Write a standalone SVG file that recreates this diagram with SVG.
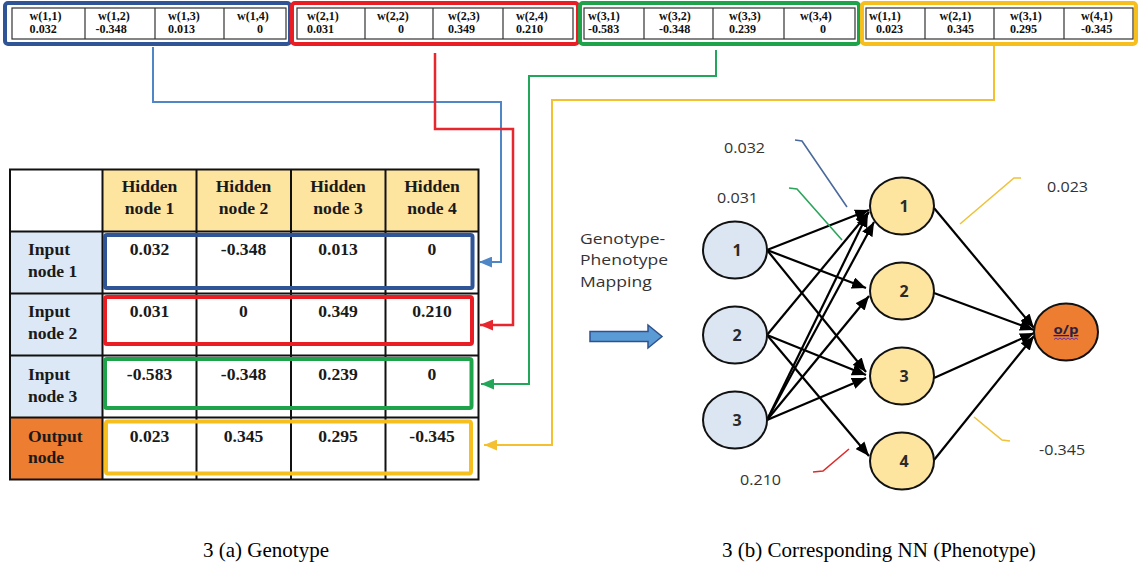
<svg xmlns="http://www.w3.org/2000/svg" width="1138" height="571" viewBox="0 0 1138 571">
<style>
.ts{font-family:"Liberation Serif",serif;font-weight:bold;font-size:11.5px;fill:#111}
.tb{font-family:"Liberation Serif",serif;font-weight:bold;font-size:16px;fill:#1a1a1a}
.m{text-anchor:middle}
.ss{font-family:"Open Sans",sans-serif;font-size:14px;fill:#333}
.gp{font-family:"Open Sans",sans-serif;font-size:15px;fill:#333}
.cap{font-family:"Liberation Serif",serif;font-size:21px;fill:#000}
.nl{font-family:"Open Sans",sans-serif;font-weight:bold;font-size:16px;fill:#2a2a2a;text-anchor:middle}
.inner{fill:#fff;stroke:#333;stroke-width:1.2}
.div{stroke:#333;stroke-width:1.2}
.grid{stroke:#111;stroke-width:2;fill:none}
.edge{stroke:#000;stroke-width:2.2;fill:none;marker-end:url(#ak)}
.inN{fill:#dce6f2;stroke:#111;stroke-width:2}
.hidN{fill:#fde5a0;stroke:#111;stroke-width:2}
.outN{fill:#ed7d31;stroke:#111;stroke-width:2}
.call{fill:none;stroke-width:1.6}
</style>
<defs>
<marker id="ak" viewBox="0 0 12 10" refX="12" refY="5" markerWidth="14" markerHeight="12" markerUnits="userSpaceOnUse" orient="auto"><path d="M0,0 L12,5 L0,10 z" fill="#000"/></marker>
<marker id="ab" viewBox="0 0 12 10" refX="12" refY="5" markerWidth="13" markerHeight="11" markerUnits="userSpaceOnUse" orient="auto"><path d="M0,0 L12,5 L0,10 z" fill="#4f86c6"/></marker>
<marker id="ar" viewBox="0 0 12 10" refX="12" refY="5" markerWidth="13" markerHeight="11" markerUnits="userSpaceOnUse" orient="auto"><path d="M0,0 L12,5 L0,10 z" fill="#e8262d"/></marker>
<marker id="ag" viewBox="0 0 12 10" refX="12" refY="5" markerWidth="13" markerHeight="11" markerUnits="userSpaceOnUse" orient="auto"><path d="M0,0 L12,5 L0,10 z" fill="#24a65a"/></marker>
<marker id="ay" viewBox="0 0 12 10" refX="12" refY="5" markerWidth="13" markerHeight="11" markerUnits="userSpaceOnUse" orient="auto"><path d="M0,0 L12,5 L0,10 z" fill="#f4c030"/></marker>
</defs>
<rect width="1138" height="571" fill="#fff"/>

<!-- Genotype strip -->
<g id="strip-blue">
<rect class="inner" x="12" y="8" width="274" height="31"/>
<path class="div" d="M85,8V39M155,8V39M224,8V39"/>
<rect x="5" y="3" width="285" height="41" rx="3" fill="none" stroke="#2f5597" stroke-width="4"/>
<text class="ts" transform="translate(29.6,20) scale(1.05,1)">w(1,1)</text>
<text class="ts" transform="translate(29.6,33) scale(1.05,1)">0.032</text>
<text class="ts" transform="translate(98,20) scale(1.05,1)">w(1,2)</text>
<text class="ts" transform="translate(95.5,33) scale(1.05,1)">-0.348</text>
<text class="ts" transform="translate(168,20) scale(1.05,1)">w(1,3)</text>
<text class="ts" transform="translate(168,33) scale(1.05,1)">0.013</text>
<text class="ts" transform="translate(237,20) scale(1.05,1)">w(1,4)</text>
<text class="ts" transform="translate(257,33) scale(1.05,1)">0</text>
</g>
<g id="strip-red">
<rect class="inner" x="297" y="8" width="276" height="31"/>
<path class="div" d="M365,8V39M433,8V39M503,8V39"/>
<rect x="292" y="3" width="286" height="41" rx="3" fill="none" stroke="#e91e25" stroke-width="4"/>
<text class="ts" transform="translate(307,20) scale(1.05,1)">w(2,1)</text>
<text class="ts" transform="translate(307,33) scale(1.05,1)">0.031</text>
<text class="ts" transform="translate(377,20) scale(1.05,1)">w(2,2)</text>
<text class="ts" transform="translate(398,33) scale(1.05,1)">0</text>
<text class="ts" transform="translate(448,20) scale(1.05,1)">w(2,3)</text>
<text class="ts" transform="translate(448,33) scale(1.05,1)">0.349</text>
<text class="ts" transform="translate(516,20) scale(1.05,1)">w(2,4)</text>
<text class="ts" transform="translate(516,33) scale(1.05,1)">0.210</text>
</g>
<g id="strip-green">
<rect class="inner" x="584" y="8" width="271" height="31"/>
<path class="div" d="M644,8V39M713,8V39M784,8V39"/>
<rect x="580" y="3" width="279" height="41" rx="3" fill="none" stroke="#1fa34a" stroke-width="4"/>
<text class="ts" transform="translate(588,20) scale(1.05,1)">w(3,1)</text>
<text class="ts" transform="translate(588,33) scale(1.05,1)">-0.583</text>
<text class="ts" transform="translate(659,20) scale(1.05,1)">w(3,2)</text>
<text class="ts" transform="translate(659,33) scale(1.05,1)">-0.348</text>
<text class="ts" transform="translate(729,20) scale(1.05,1)">w(3,3)</text>
<text class="ts" transform="translate(729,33) scale(1.05,1)">0.239</text>
<text class="ts" transform="translate(800,20) scale(1.05,1)">w(3,4)</text>
<text class="ts" transform="translate(820,33) scale(1.05,1)">0</text>
</g>
<g id="strip-yellow">
<rect class="inner" x="866" y="8" width="267" height="31"/>
<path class="div" d="M925,8V39M994,8V39M1064,8V39"/>
<rect x="862" y="3" width="274" height="41" rx="3" fill="none" stroke="#f7bf1e" stroke-width="4"/>
<text class="ts" transform="translate(869,20) scale(1.05,1)">w(1,1)</text>
<text class="ts" transform="translate(876,33) scale(1.05,1)">0.023</text>
<text class="ts" transform="translate(939.5,20) scale(1.05,1)">w(2,1)</text>
<text class="ts" transform="translate(947,33) scale(1.05,1)">0.345</text>
<text class="ts" transform="translate(1010,20) scale(1.05,1)">w(3,1)</text>
<text class="ts" transform="translate(1010,33) scale(1.05,1)">0.295</text>
<text class="ts" transform="translate(1081,20) scale(1.05,1)">w(4,1)</text>
<text class="ts" transform="translate(1081,33) scale(1.05,1)">-0.345</text>
</g>

<!-- Genotype table -->
<g id="table">
<rect x="10" y="169.5" width="92.5" height="62" fill="#fff"/>
<rect x="102.5" y="169.5" width="376" height="62" fill="#fde5a0"/>
<rect x="10" y="231.5" width="92.5" height="186" fill="#dce8f5"/>
<rect x="10" y="417.5" width="92.5" height="62" fill="#ed7d31"/>
<rect x="102.5" y="231.5" width="376" height="248" fill="#fff"/>
<rect class="grid" x="10" y="169.5" width="468.5" height="310"/>
<path class="grid" d="M102.5,169.5V479.5M196.5,169.5V479.5M291,169.5V479.5M385.5,169.5V479.5M10,231.5H478.5M10,293.5H478.5M10,355.5H478.5M10,417.5H478.5"/>
<rect x="105" y="235" width="367.5" height="53" rx="2" fill="none" stroke="#2f5597" stroke-width="4"/>
<rect x="105" y="297" width="367" height="47" rx="2" fill="none" stroke="#e91e25" stroke-width="4"/>
<rect x="105" y="359" width="366.5" height="49" rx="2" fill="none" stroke="#1fa34a" stroke-width="4"/>
<rect x="106" y="421.5" width="365" height="52" rx="2" fill="none" stroke="#f7bf1e" stroke-width="4"/>
<text class="tb m" transform="translate(149.5,192) scale(1.1,1)">Hidden</text>
<text class="tb m" transform="translate(149.5,214) scale(1.1,1)">node 1</text>
<text class="tb m" transform="translate(243.5,192) scale(1.1,1)">Hidden</text>
<text class="tb m" transform="translate(243.5,214) scale(1.1,1)">node 2</text>
<text class="tb m" transform="translate(338,192) scale(1.1,1)">Hidden</text>
<text class="tb m" transform="translate(338,214) scale(1.1,1)">node 3</text>
<text class="tb m" transform="translate(432,192) scale(1.1,1)">Hidden</text>
<text class="tb m" transform="translate(432,214) scale(1.1,1)">node 4</text>
<text class="tb" transform="translate(28,255) scale(1.1,1)">Input</text>
<text class="tb" transform="translate(28,277) scale(1.1,1)">node 1</text>
<text class="tb" transform="translate(28,317) scale(1.1,1)">Input</text>
<text class="tb" transform="translate(28,339) scale(1.1,1)">node 2</text>
<text class="tb" transform="translate(28,379.5) scale(1.1,1)">Input</text>
<text class="tb" transform="translate(28,401.5) scale(1.1,1)">node 3</text>
<text class="tb" transform="translate(28,441.5) scale(1.1,1)">Output</text>
<text class="tb" transform="translate(28,463) scale(1.1,1)">node</text>
<text class="tb m" transform="translate(149.5,255) scale(1.1,1)">0.032</text>
<text class="tb m" transform="translate(243.5,255) scale(1.1,1)">-0.348</text>
<text class="tb m" transform="translate(338,255) scale(1.1,1)">0.013</text>
<text class="tb m" transform="translate(432,255) scale(1.1,1)">0</text>
<text class="tb m" transform="translate(149.5,317) scale(1.1,1)">0.031</text>
<text class="tb m" transform="translate(243.5,317) scale(1.1,1)">0</text>
<text class="tb m" transform="translate(338,317) scale(1.1,1)">0.349</text>
<text class="tb m" transform="translate(432,317) scale(1.1,1)">0.210</text>
<text class="tb m" transform="translate(149.5,379.5) scale(1.1,1)">-0.583</text>
<text class="tb m" transform="translate(243.5,379.5) scale(1.1,1)">-0.348</text>
<text class="tb m" transform="translate(338,379.5) scale(1.1,1)">0.239</text>
<text class="tb m" transform="translate(432,379.5) scale(1.1,1)">0</text>
<text class="tb m" transform="translate(149.5,441.5) scale(1.1,1)">0.023</text>
<text class="tb m" transform="translate(243.5,441.5) scale(1.1,1)">0.345</text>
<text class="tb m" transform="translate(338,441.5) scale(1.1,1)">0.295</text>
<text class="tb m" transform="translate(432,441.5) scale(1.1,1)">-0.345</text>
</g>

<!-- Connectors -->
<g id="connectors">
<path d="M153,47V102H501V262H479" fill="none" stroke="#4f86c6" stroke-width="2" marker-end="url(#ab)"/>
<path d="M435,53V129H513V325H480" fill="none" stroke="#e8262d" stroke-width="2.5" marker-end="url(#ar)"/>
<path d="M716,50V76H529V384H481" fill="none" stroke="#24a65a" stroke-width="2" marker-end="url(#ag)"/>
<path d="M994,46V100H552V445H484" fill="none" stroke="#f4c030" stroke-width="2" marker-end="url(#ay)"/>
<path class="edge" d="M767,250L869,210"/>
<path class="edge" d="M767,250L866,288"/>
<path class="edge" d="M767,250L866,372"/>
<path class="edge" d="M767,335L869,212"/>
<path class="edge" d="M767,335L866,375"/>
<path class="edge" d="M767,335L869,456"/>
<path class="edge" d="M767,420L868,213"/>
<path class="edge" d="M767,420L874,222"/>
<path class="edge" d="M767,420L869,296"/>
<path class="edge" d="M767,420L866,378"/>
<path class="edge" d="M934,208L1034,328"/>
<path class="edge" d="M934,293L1034,330"/>
<path class="edge" d="M934,378L1034,333"/>
<path class="edge" d="M934,460L1034,336"/>
<path class="call" stroke="#4a6a9c" d="M795,140L802,141L847,207"/>
<path class="call" stroke="#2ba55c" d="M789,188L797,189L842,240"/>
<path class="call" stroke="#f0c23a" d="M1021,178L1014,178L960,224"/>
<path class="call" stroke="#f0c23a" d="M974,417L1002,440L1010,441"/>
<path class="call" stroke="#e02a2a" d="M849,449L823,471L813,472"/>
</g>

<!-- Mapping label and arrow -->
<g id="mapping">
<text class="gp" transform="translate(580,244) scale(1.17,1)">Genotype-</text>
<text class="gp" transform="translate(580,265) scale(1.17,1)">Phenotype</text>
<text class="gp" transform="translate(580,287) scale(1.17,1)">Mapping</text>
<polygon points="590,331.5 648,331.5 648,325 662,336.5 648,348 648,341.5 590,341.5" fill="#5b9bd5" stroke="#2f528f" stroke-width="1.5"/>
</g>

<!-- Phenotype nodes -->
<g id="in1"><ellipse class="inN" cx="735" cy="250" rx="32" ry="28.5"/><text class="nl" x="737" y="256">1</text></g>
<g id="in2"><ellipse class="inN" cx="735" cy="335" rx="32" ry="28.5"/><text class="nl" x="737" y="341">2</text></g>
<g id="in3"><ellipse class="inN" cx="735" cy="420" rx="32" ry="28.5"/><text class="nl" x="737" y="426">3</text></g>
<g id="h1"><ellipse class="hidN" cx="902" cy="206" rx="32" ry="28.5"/><text class="nl" x="904" y="212">1</text></g>
<g id="h2"><ellipse class="hidN" cx="902" cy="291" rx="32" ry="28.5"/><text class="nl" x="904" y="297">2</text></g>
<g id="h3"><ellipse class="hidN" cx="902" cy="376" rx="32" ry="28.5"/><text class="nl" x="904" y="382">3</text></g>
<g id="h4"><ellipse class="hidN" cx="902" cy="461" rx="32" ry="28.5"/><text class="nl" x="904" y="467">4</text></g>
<g id="out"><ellipse class="outN" cx="1066" cy="332" rx="32" ry="28.5"/>
<text transform="translate(1066,334) scale(1.15,1)" text-anchor="middle" font-family="Open Sans, sans-serif" font-weight="bold" font-size="13" fill="#2a2340" text-decoration="underline">o/p</text>
<path d="M1054,339.5l2,-1.5l2,1.5l2,-1.5l2,1.5l2,-1.5l2,1.5l2,-1.5l2,1.5l2,-1.5l2,1.5l2,-1.5l2,1.5" fill="none" stroke="#7030a0" stroke-width="1"/>
</g>

<!-- Weight labels -->
<g id="weights">
<text class="ss" transform="translate(724,153) scale(1.15,1)">0.032</text>
<text class="ss" transform="translate(717,203) scale(1.15,1)">0.031</text>
<text class="ss" transform="translate(1047,192) scale(1.15,1)">0.023</text>
<text class="ss" transform="translate(1039,455) scale(1.15,1)">-0.345</text>
<text class="ss" transform="translate(740,485) scale(1.15,1)">0.210</text>
</g>

<!-- Captions -->
<text class="cap" x="203" y="557">3 (a) Genotype</text>
<text class="cap" x="722" y="557">3 (b) Corresponding NN (Phenotype)</text>
</svg>
